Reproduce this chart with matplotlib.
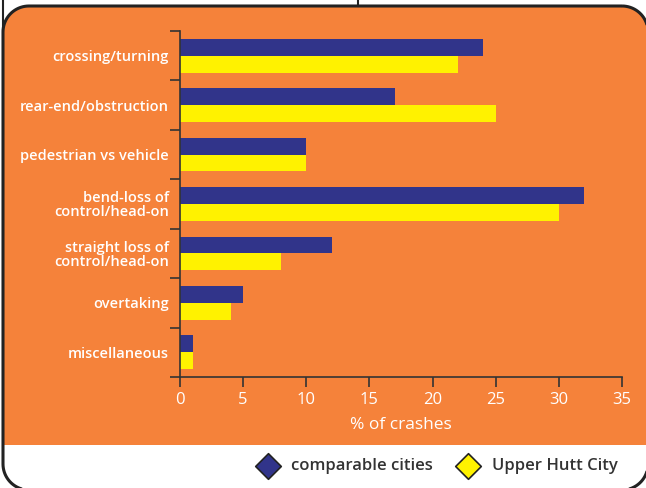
import numpy as np
import matplotlib.pyplot as plt
from matplotlib.patches import Polygon, Rectangle
from matplotlib.lines import Line2D

categories = ['crossing/turning', 'rear-end/obstruction', 'pedestrian vs vehicle',
              'bend-loss of\ncontrol/head-on', 'straight loss of\ncontrol/head-on',
              'overtaking', 'miscellaneous']
comparable = [24, 17, 10, 32, 12, 5, 1]
upper_hutt = [22, 25, 10, 30, 8, 4, 1]
xticks = [0, 5, 10, 15, 20, 25, 30, 35]

orange = '#F5823A'
blue = '#31348A'
yellow = '#FFF200'
dark = '#333333'

plt.rcParams['font.family'] = ['Open Sans', 'DejaVu Sans']

W, H = 646, 488
fig = plt.figure(figsize=(W / 100, H / 100), dpi=100)
fig.patch.set_facecolor('white')


def rounded_box(x0, y0, x1, y1, r):
    # corners in pixel coords, y downward
    pts = []
    for cx, cy, a0 in [(x1 - r, y0 + r, -90), (x1 - r, y1 - r, 0),
                       (x0 + r, y1 - r, 90), (x0 + r, y0 + r, 180)]:
        t = np.radians(np.linspace(a0, a0 + 90, 20))
        pts += list(zip(cx + r * np.cos(t), cy + r * np.sin(t)))
    return pts


# background panel in pixel coords
bg = fig.add_axes([0, 0, 1, 1])
bg.set_xlim(0, W)
bg.set_ylim(H, 0)
bg.axis('off')
pts = rounded_box(3, 6, 648, 490, 26)
bg.add_patch(Polygon(pts, closed=True, facecolor='white', edgecolor='none', zorder=1))
inner = Polygon(pts, closed=True, facecolor=orange, edgecolor='none', zorder=2)
bg.add_patch(inner)
inner.set_clip_path(Rectangle((0, 0), W, 445, transform=bg.transData))
bg.add_patch(Polygon(pts, closed=True, facecolor='none', edgecolor='#222222',
                     linewidth=2.2, zorder=3))
bg.add_line(Line2D([3, 3], [0, 30], color='#222222', lw=1.5, zorder=3))
bg.add_line(Line2D([358, 358], [0, 6], color='#222222', lw=1.5, zorder=3))

# legend
bg.scatter([268], [466], marker='D', s=170, color=blue, edgecolor='#222222', lw=1.2, zorder=4)
bg.text(291, 466, 'comparable cities', color=dark, fontsize=12, fontweight='semibold',
        va='center', ha='left', zorder=4)
bg.scatter([468], [466], marker='D', s=170, color=yellow, edgecolor='#222222', lw=1.2, zorder=4)
bg.text(492, 466, 'Upper Hutt City', color=dark, fontsize=12, fontweight='semibold',
        va='center', ha='left', zorder=4)

# main chart
ax = fig.add_axes([180 / W, (H - 377) / H, 442 / W, 346 / H])
ax.patch.set_alpha(0)
n = len(categories)
pos = list(range(n))
ax.barh([p + 0.33 for p in pos], comparable, height=0.34, color=blue)
ax.barh([p + 0.67 for p in pos], upper_hutt, height=0.34, color=yellow)

ax.set_xlim(0, 35)
ax.set_ylim(n, 0)
ax.set_xticks(xticks)
ax.set_yticks(range(n + 1))
ax.set_yticklabels([])
ax.set_yticks([p + 0.5 for p in pos], minor=True)
ax.set_yticklabels(categories, minor=True)
ax.tick_params(axis='y', which='major', direction='out', length=7.5, width=1.2, color=dark)
ax.tick_params(axis='y', which='minor', length=0, pad=8, labelcolor='white', labelsize=10.5)
ax.tick_params(axis='x', direction='out', length=7.5, width=1.2, color=dark,
               labelcolor='white', labelsize=12, pad=3)
for lab in ax.get_yticklabels(minor=True):
    lab.set_fontweight('semibold')
    lab.set_linespacing(1.0)
for s in ['top', 'right']:
    ax.spines[s].set_visible(False)
for s in ['left', 'bottom']:
    ax.spines[s].set_color(dark)
    ax.spines[s].set_linewidth(1.2)
ax.set_xlabel('% of crashes', color='white', fontsize=12.5, labelpad=7)

fig.savefig('out.png', dpi=100)
